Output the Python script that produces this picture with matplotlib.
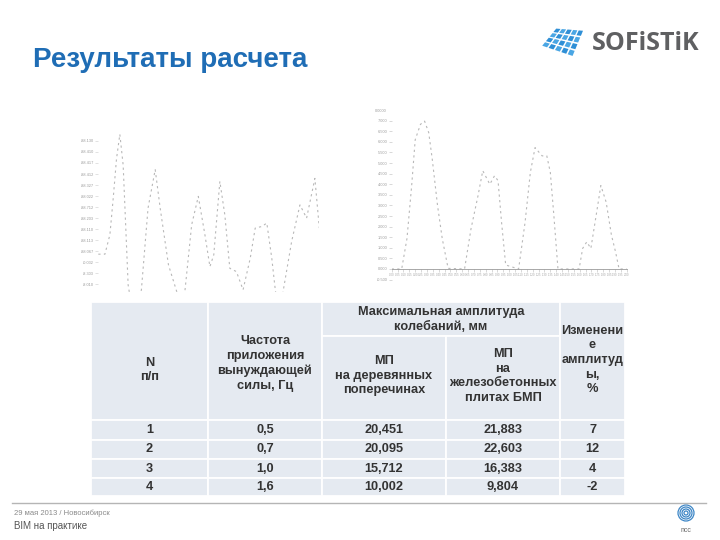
import matplotlib.pyplot as plt
from matplotlib.patches import Rectangle, Polygon, Circle

W, H = 720, 540

# left chart: displacement history, wooden sleepers
left_t = [0, 1.2, 2.1, 2.7, 3.3, 3.9, 4.5, 5.0, 5.4, 5.6, 6.6, 7.8, 9.0, 10.3, 11.2, 12.7,
          14.2, 14.9, 15.7, 16.9, 18.1, 19.3, 20.2, 20.9, 22.0, 22.9, 23.8, 25.0, 26.2, 27.5,
          28.4, 29.6, 30.5, 31.4, 32.0, 32.7, 33.5, 35.0, 36.5, 37.7, 39.2, 40.0]
left_v = [2.73, 2.73, 4.5, 7.8, 11.4, 13.6, 10.8, 4.8, -0.06, -0.67, -3.0, -0.5, 6.9, 10.4,
          6.9, 1.76, -0.67, -3.0, -0.5, 5.4, 7.97, 4.48, 1.6, 2.67, 9.33, 6.3, 1.45, 1.15,
          -0.5, 2.36, 5.1, 5.24, 5.55, 2.36, -0.36, -3.0, -0.5, 3.9, 7.2, 6.0, 9.6, 5.1]
left_yticks = ["-8.010", "-8.303", "-0.032", "-88.067", "-88.113", "-88.110", "-88.203",
               "-88.712", "-88.022", "-88.327", "-88.412", "-88.417", "-88.410", "-88.130"]

# right chart: displacement history, concrete slabs
right_t = [0, 1.7, 2.6, 3.4, 4.0, 4.9, 5.6, 6.3, 6.9, 7.8, 8.6, 9.6, 12.4, 13.5, 14.7, 15.5,
           16.7, 17.5, 18.1, 18.7, 19.4, 21.6, 22.7, 23.6, 24.4, 25.6, 26.4, 27.0, 27.6, 28.3,
           31.9, 32.5, 33.2, 33.9, 34.8, 35.6, 36.5, 37.4, 38.1, 38.7, 40.0]
right_v = [0, 0, 1.44, 3.94, 6.1, 6.83, 6.98, 6.44, 5.19, 3.0, 1.44, 0.03, 0, 1.9, 3.47, 4.64,
           4.0, 4.4, 4.17, 2.2, 0.19, 0, 2.2, 4.56, 5.73, 5.34, 5.34, 4.56, 2.53, 0,
           0, 0.97, 1.28, 0.97, 2.53, 3.94, 3.16, 1.6, 0.81, 0, 0]
right_yticks = [-0.5, 0, 0.5, 1.0, 1.5, 2.0, 2.5, 3.0, 3.5, 4.0, 4.5, 5.0, 5.5, 6.0, 6.5, 7.0]
right_xlabels = ["%.2f" % (0.05 * i) for i in range(41)]

# table
head_n = "N\nп/п"
head_freq = "Частота\nприложения\nвынуждающей\nсилы, Гц"
head_amp = "Максимальная амплитуда\nколебаний, мм"
head_wood = "МП\nна деревянных\nпоперечинах"
head_conc = "МП\nна\nжелезобетонных\nплитах БМП"
head_change = "Изменени\nе\nамплитуд\nы,\n%"
row_n = ["1", "2", "3", "4"]
freq = ["0,5", "0,7", "1,0", "1,6"]
amp_wood = ["20,451", "20,095", "15,712", "10,002"]
amp_conc = ["21,883", "22,603", "16,383", "9,804"]
change = ["7", "12", "4", "-2"]

plt.rcParams['font.family'] = ['Liberation Sans', 'DejaVu Sans']
fig = plt.figure(figsize=(7.2, 5.4), dpi=100)
fig.patch.set_facecolor('white')


def px_axes(l, t, r, b):
    return fig.add_axes([l / W, 1 - b / H, (r - l) / W, (b - t) / H])


bg = fig.add_axes([0, 0, 1, 1])
bg.set_xlim(0, W)
bg.set_ylim(H, 0)
bg.axis('off')

# title
bg.text(33, 60, "Результаты расчета", fontsize=20, fontweight='bold', color='#1f6db5',
        ha='left', va='center')

# SOFiSTiK logo
def lerp(p, q, s):
    return (p[0] + (q[0] - p[0]) * s, p[1] + (q[1] - p[1]) * s)

c00, c10, c01, c11 = (556, 28), (584, 30), (541, 46), (573, 57)
nx, ny = 5, 4
for i in range(nx):
    for j in range(ny):
        pts = []
        for (a, b) in [(i + 0.12, j + 0.12), (i + 0.88, j + 0.12), (i + 0.88, j + 0.88), (i + 0.12, j + 0.88)]:
            top = lerp(c00, c10, a / nx)
            bot = lerp(c01, c11, a / nx)
            pts.append(lerp(top, bot, b / ny))
        shade = '#2f8fd6' if (i + j) % 2 == 0 else '#4aa6e4'
        bg.add_patch(Polygon(pts, closed=True, facecolor=shade, edgecolor='none'))
bg.text(592, 44, "SOFiSTiK", fontsize=18, fontweight='bold', color='#5f6062',
        family='Open Sans', ha='left', va='center')

# table
cell = '#e5eaf1'
def cell_box(x0, y0, x1, y1):
    bg.add_patch(Rectangle((x0, y0), x1 - x0, y1 - y0, facecolor=cell, edgecolor='white', lw=1.3))

tkw = dict(fontsize=9.2, fontweight='bold', color='#333333', ha='center', va='center',
           multialignment='center', linespacing=1.3)
xs = [91, 208, 322, 446, 560, 625]
cell_box(91, 302, 208, 420)
cell_box(208, 302, 322, 420)
cell_box(322, 302, 560, 336)
cell_box(322, 336, 446, 420)
cell_box(446, 336, 560, 420)
cell_box(560, 302, 625, 420)
bg.text(149.5, 370, head_n, **tkw)
bg.text(265, 363.5, head_freq, **tkw)
bg.text(441, 319.5, head_amp, **tkw)
bg.text(384, 375.5, head_wood, **tkw)
bg.text(503, 376, head_conc, **tkw)
bg.text(592.5, 360, head_change, **tkw)

row_edges = [420, 440, 459, 478, 496]
for k in range(4):
    y0, y1 = row_edges[k], row_edges[k + 1]
    for c in range(5):
        cell_box(xs[c], y0, xs[c + 1], y1)
    yc = (y0 + y1) / 2
    vals = [row_n[k], freq[k], amp_wood[k], amp_conc[k], change[k]]
    for c in range(5):
        bg.text((xs[c] + xs[c + 1]) / 2, yc, vals[c], **tkw)

# footer
bg.plot([12, 706], [503, 503], color='#b5b5b5', lw=1.0)
bg.text(14, 513, "29 мая 2013 / Новосибирск", fontsize=5.5, color='#8a8a8a', ha='left', va='center')
bg.text(14, 526, "BIM на практике", fontsize=7, color='#555555', ha='left', va='center')
for r in [8, 6, 4, 2]:
    bg.add_patch(Circle((686, 513), r, facecolor='none', edgecolor='#3d86c6', lw=0.9))
bg.text(686, 530, "псс", fontsize=5, color='#666666', ha='center', va='center')

# left chart
ax1 = px_axes(98.3, 132.1, 319.3, 292.0)
ax1.plot(left_t, left_v, color='#b8b8b8', lw=0.8, linestyle=(0, (2, 3)))
ax1.set_xlim(0, 40)
ax1.set_ylim(-0.7, 13.8)
ax1.set_yticks(range(14))
ax1.set_yticklabels(left_yticks)
ax1.set_xticks([])
ax1.tick_params(axis='y', labelsize=2.8, labelcolor='#9a9a9a', color='#cccccc', length=2, width=0.4, pad=1)
for s in ax1.spines.values():
    s.set_visible(False)
ax1.patch.set_alpha(0)

# right chart
ax2 = px_axes(391.7, 113.3, 626.7, 281.7)
ax2.plot(right_t, right_v, color='#b8b8b8', lw=0.8, linestyle=(0, (2, 3)))
ax2.set_xlim(0, 40)
ax2.set_ylim(-0.6, 7.35)
ax2.set_yticks(right_yticks)
ax2.set_yticklabels(["%.3f" % v for v in right_yticks])
ax2.set_xticks(range(41))
ax2.set_xticklabels(right_xlabels, rotation=90)
ax2.spines['bottom'].set_position(('data', 0))
ax2.spines['bottom'].set_color('#9a9a9a')
ax2.spines['bottom'].set_linewidth(0.6)
for s in ['top', 'right', 'left']:
    ax2.spines[s].set_visible(False)
ax2.tick_params(axis='y', labelsize=2.8, labelcolor='#9a9a9a', color='#bbbbbb', length=2, width=0.4, pad=1)
ax2.tick_params(axis='x', labelsize=2.0, labelcolor='#a5a5a5', color='#bbbbbb', length=2, width=0.4, pad=1)
ax2.text(-0.02, 1.0, "0.0000", transform=ax2.transAxes, fontsize=2.8, color='#9a9a9a', ha='right', va='bottom')
ax2.patch.set_alpha(0)

fig.savefig("out.png", dpi=100, facecolor='white')
